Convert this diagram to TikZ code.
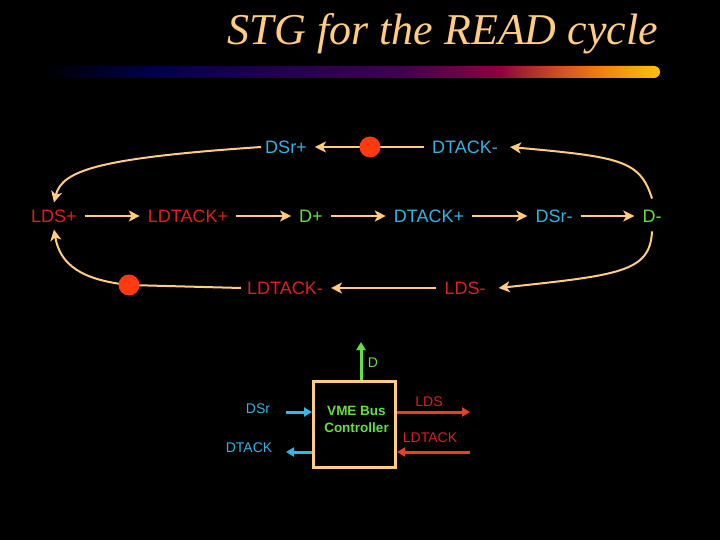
\documentclass[tikz,border=0pt]{standalone}
\usepackage{fontspec}
\setmainfont{Liberation Sans}
\newfontfamily\titlefont{Liberation Serif}
\usetikzlibrary{arrows.meta}
\definecolor{peach}{HTML}{FFCC80}
\definecolor{sred}{HTML}{E01E1E}
\definecolor{sblue}{HTML}{33B4E4}
\definecolor{sgreen}{HTML}{66E040}
\definecolor{dotred}{HTML}{FF3A10}
\definecolor{lblue}{HTML}{30B8E8}
\definecolor{lred}{HTML}{E84020}
\definecolor{bA}{HTML}{000048}
\definecolor{bB}{HTML}{400050}
\definecolor{bC}{HTML}{900040}
\definecolor{bD}{HTML}{A02030}
\definecolor{bE}{HTML}{D05020}
\definecolor{bF}{HTML}{F08010}
\definecolor{bG}{HTML}{FFC010}
\pgfdeclarehorizontalshading{barshade}{100bp}{color(0bp)=(black); color(25bp)=(black); color(33.9bp)=(bA); color(54bp)=(bB); color(62.1bp)=(bC); color(63.7bp)=(bD); color(66.9bp)=(bE); color(70.2bp)=(bF); color(75bp)=(bG); color(100bp)=(bG)}
\tikzset{
  stg/.style={font=\fontsize{18}{20}\selectfont, inner xsep=8pt, inner ysep=2pt},
  conn/.style={draw=peach, line width=2pt, -{Stealth[length=11pt,width=11pt,inset=3pt]}},
  plain/.style={draw=peach, line width=2pt},
  tok/.style={circle, fill=dotred, minimum size=21pt, inner sep=0pt},
  lbl/.style={font=\fontsize{14}{16}\selectfont, inner sep=0pt},
  sig/.style={line width=3pt, -{Triangle[length=8pt,width=9pt]}},
  ctrl/.style={draw=peach, line width=3pt}
}
\begin{document}
\begin{tikzpicture}[x=1pt,y=-1pt]
\fill[black] (0,0) rectangle (720,540);
\useasboundingbox (0,0) rectangle (720,540);
% title
\node[font=\titlefont\itshape\fontsize{44}{48}\selectfont, text=peach, anchor=base, inner sep=0pt] (title) at (443,45) {STG for the READ cycle};
\shade[shading=barshade, rounded corners=6pt] (40,66) rectangle (660,78);
% STG nodes
\node[stg, text=sblue] (DSrp) at (286,147) {DSr+};
\node[stg, text=sblue] (DTm) at (465,147) {DTACK-};
\node[stg, text=sred] (LDSp) at (54,216) {LDS+};
\node[stg, text=sred] (LDTp) at (188,216) {LDTACK+};
\node[stg, text=sgreen] (Dp) at (311,216) {D+};
\node[stg, text=sblue] (DTp) at (429,216) {DTACK+};
\node[stg, text=sblue] (DSrm) at (554,216) {DSr-};
\node[stg, text=sgreen] (Dm) at (652,216) {D-};
\node[stg, text=sred] (LDTm) at (285,288) {LDTACK-};
\node[stg, text=sred] (LDSm) at (465,288) {LDS-};
% tokens positions
\coordinate (t1) at (370,147);
\coordinate (t2) at (129,285);
% connectors
\draw[conn] (LDSp) -- (LDTp);
\draw[conn] (LDTp) -- (Dp);
\draw[conn] (Dp) -- (DTp);
\draw[conn] (DTp) -- (DSrm);
\draw[conn] (DSrm) -- (Dm);
\draw[conn] ([yshift=9pt]Dm.north) .. controls (640,160) and (620,157) .. ([xshift=4pt]DTm.east);
\draw[conn] ([yshift=-7pt]Dm.south) .. controls (650,272) and (620,275) .. ([xshift=5pt]LDSm.east);
\draw[plain] (DTm.west) -- (t1);
\draw[conn] (t1) -- (DSrp.east);
\draw[conn] ([xshift=4pt]DSrp.west) .. controls (100,158) and (62,170) .. ([yshift=5pt]LDSp.north);
\draw[conn] (LDSm) -- (LDTm);
\draw[plain] ([xshift=2pt]LDTm.west) -- (t2);
\draw[conn] (t2) .. controls (82,280) and (60,265) .. ([yshift=-5pt]LDSp.south);
\node[tok] (tok1) at (t1) {};
\node[tok] (tok2) at (t2) {};
% controller
\node[ctrl, minimum width=82pt, minimum height=86pt, inner sep=0pt] (box) at (354.5,424.5) {};
\node[lbl, font=\bfseries\fontsize{13.5}{17}\selectfont, text=sgreen, align=center] (vme) at (356.5,419.5) {VME Bus\\Controller};
\coordinate (Dtip) at (361,342);
\coordinate (dsrin) at (286,412);
\coordinate (dtout) at (286,452);
\coordinate (ldsout) at (470,412);
\coordinate (ldtin) at (470,452);
\draw[sig, sgreen] (box.north -| Dtip) -- (Dtip);
\draw[sig, lblue] (dsrin) -- (dsrin -| box.west);
\draw[sig, lblue] (dtout -| box.west) -- (dtout);
\draw[sig, lred] (ldsout -| box.east) -- (ldsout);
\draw[sig, lred] (ldtin) -- (ldtin -| box.east);
\node[lbl, text=sgreen] (Dl) at (373,363) {D};
\node[lbl, text=sblue] (DSrl) at (258,409) {DSr};
\node[lbl, text=sblue] (DTl) at (249,448) {DTACK};
\node[lbl, text=sred] (LDSl) at (429,402) {LDS};
\node[lbl, text=sred] (LDTl) at (430,438) {LDTACK};
\end{tikzpicture}
\end{document}
